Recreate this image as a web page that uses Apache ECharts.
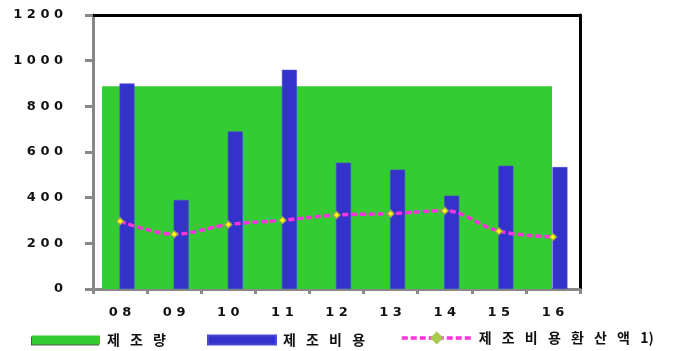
<!DOCTYPE html>
<html>
<head>
<meta charset="utf-8">
<script src="https://cdn.jsdelivr.net/npm/echarts@6/dist/echarts.min.js"></script>
<style>
  html, body { margin: 0; padding: 0; background: #fff; }
  #chart { width: 675px; height: 351px; }
</style>
</head>
<body>
<div id="chart"></div>
<script>
// Years on the category axis
const years = ['08', '09', '10', '11', '12', '13', '14', '15', '16'];
// 제조량 (production volume)
const volume = [888, 888, 888, 888, 888, 888, 888, 888, 888];
// 제조비용 (production cost)
const cost = [900, 390, 690, 960, 553, 523, 409, 540, 534];
// 제조비용환산액 (converted production cost)
const converted = [297, 240, 282, 301, 324, 330, 343, 253, 228];
// Value-axis ticks
const yTicks = [0, 200, 400, 600, 800, 1000, 1200];

const NAME_VOL = '제조량';
const NAME_COST = '제조비용';
const NAME_CONV = '제조비용환산액 1)';

const numFont = 'DejaVu Sans';
const krFont = 'Noto Sans CJK KR';
const spaced = s => s.split('').filter(c => c !== ' ').join(' ');
// widen the gap between Hangul syllables; keep "1)" together
const spacedKr = s => s.split(' ').map(w => /^[0-9)]+$/.test(w) ? w : w.split('').join('\u2002 ')).join('\u2002 ');

const hiddenX = n => ({ type: 'category', gridIndex: n, data: years, show: false });
const hiddenY = n => ({ type: 'value', gridIndex: n, min: 0, max: 1200, show: false });

const chart = echarts.init(document.getElementById('chart'), null, { renderer: 'canvas' });

const legendText = { fontFamily: krFont, fontWeight: 'bold', fontSize: 14, color: '#111', padding: [0, 0, 0, 2] };

chart.setOption({
  animation: false,
  backgroundColor: '#fff',
  grid: [
    { left: 93, right: 95, top: 15, bottom: 62 },   // main axes + line
    { left: 102, right: 123, top: 15, bottom: 62 }, // 제조량 block
    { left: 100, right: 88, top: 15, bottom: 62 }   // 제조비용 bars
  ],
  xAxis: [
    {
      type: 'category', gridIndex: 0, data: years, position: 'bottom',
      axisLine: { onZero: false, lineStyle: { color: '#888', width: 3 } },
      axisTick: { show: true, length: 5, lineStyle: { color: '#888', width: 3 } },
      axisLabel: {
        margin: 17, fontFamily: numFont, fontWeight: 'bold', fontSize: 13, color: '#111',
        formatter: v => spaced(v)
      }
    },
    {
      type: 'category', gridIndex: 0, data: years, position: 'top',
      axisLine: { onZero: false, lineStyle: { color: '#000', width: 3 } },
      axisTick: { show: false }, axisLabel: { show: false }
    },
    hiddenX(1),
    hiddenX(2)
  ],
  yAxis: [
    {
      type: 'value', gridIndex: 0, min: 0, max: 1200, interval: 200, position: 'left',
      axisLine: { show: true, onZero: false, lineStyle: { color: '#888', width: 3 } },
      axisTick: { show: true, length: 8, lineStyle: { color: '#888', width: 3 } },
      splitLine: { show: false },
      axisLabel: {
        margin: 30, fontFamily: numFont, fontWeight: 'bold', fontSize: 13, color: '#111',
        formatter: v => yTicks.includes(v) ? spaced(String(v)) : ''
      }
    },
    {
      type: 'value', gridIndex: 0, min: 0, max: 1200, interval: 200, position: 'right',
      axisLine: { show: true, onZero: false, lineStyle: { color: '#000', width: 3 } },
      axisTick: { show: false }, axisLabel: { show: false }, splitLine: { show: false }
    },
    hiddenY(1),
    hiddenY(2)
  ],
  legend: [
    {
      left: 32, top: 333, padding: 0, itemWidth: 68, itemHeight: 9,
      data: [{ name: NAME_VOL, icon: 'rect' }],
      itemStyle: { shadowColor: '#555', shadowOffsetX: -1, shadowOffsetY: 1 },
      textStyle: legendText, formatter: spacedKr
    },
    {
      left: 207, top: 333, padding: 0, itemWidth: 68, itemHeight: 9,
      data: [{ name: NAME_COST, icon: 'rect' }],
      textStyle: legendText, formatter: spacedKr
    },
    {
      left: 400, top: 331, padding: 0, itemWidth: 70, itemHeight: 13,
      data: [NAME_CONV],
      itemStyle: { color: '#a8c850', borderColor: '#a8c850' },
      lineStyle: { color: '#ff33dd', width: 3.5, type: [6, 3] },
      textStyle: legendText, formatter: spacedKr
    }
  ],
  series: [
    {
      name: NAME_VOL, type: 'bar', xAxisIndex: 2, yAxisIndex: 2,
      data: volume, barWidth: '100%', barCategoryGap: '0%', z: 1,
      itemStyle: { color: '#33cc33' }
    },
    {
      name: NAME_COST, type: 'bar', xAxisIndex: 3, yAxisIndex: 3,
      data: cost, barWidth: 15, z: 2,
      itemStyle: { color: '#3333cc', borderColor: '#4a4ad0', borderWidth: 0.6 }
    },
    {
      name: NAME_CONV, type: 'line', xAxisIndex: 0, yAxisIndex: 0,
      data: converted, smooth: 0.35, z: 3,
      symbol: 'diamond', symbolSize: 7,
      lineStyle: { color: '#ff33dd', width: 3.5, type: [6, 3] },
      itemStyle: { color: '#ffff00', borderColor: 'rgba(150,160,90,0.85)', borderWidth: 1.5 }
    }
  ]
});
</script>
</body>
</html>
